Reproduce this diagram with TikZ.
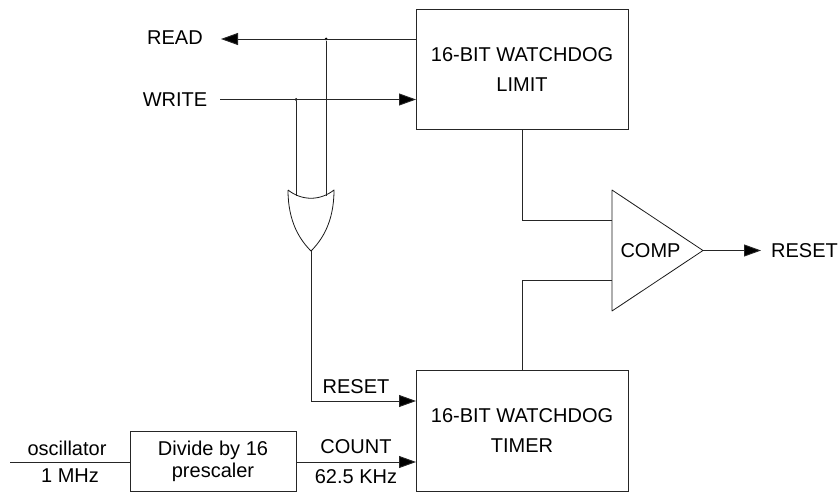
\documentclass[tikz,border=0pt]{standalone}
\usepackage{fontspec}
\setmainfont{Liberation Sans}
\usetikzlibrary{arrows.meta,calc}
\tikzset{
  x=1pt,y=-1pt,
  wire/.style={line width=0.9pt,draw=black!85},
  arr/.style={wire,-{Triangle[length=17pt,width=12pt,fill=black]}},
  blockbox/.style={draw=black!85,line width=0.9pt,align=center,inner sep=0pt},
  bigbox/.style={blockbox,minimum width=212pt,minimum height=120.5pt,font=\fontsize{20}{30}\selectfont},
  smallbox/.style={blockbox,minimum width=166pt,minimum height=60pt,font=\fontsize{20}{22}\selectfont},
  lab/.style={inner sep=0pt,anchor=base,font=\fontsize{20}{24}\selectfont},
  dotnode/.style={circle,fill=black,inner sep=0pt,minimum size=3pt},
  shapeline/.style={line width=0.8pt,draw=black!90,line join=round}
}
\begin{document}
\begin{tikzpicture}
\useasboundingbox (0,0) rectangle (840,492);
% blocks
\node[bigbox] (limit) at (522,69.5) {16-BIT WATCHDOG\\LIMIT};
\node[bigbox] (timer) at (522,431) {16-BIT WATCHDOG\\TIMER};
\node[smallbox] (pre) at (213,461) {Divide by 16\\prescaler};
% labels
\node[lab] (read) at (175,45) {READ};
\node[lab] (write) at (175,106.5) {WRITE};
\node[lab] (osc) at (67,455) {oscillator};
\node[lab] (mhz) at (70,482) {1 MHz};
\node[lab] (count) at (356,453) {COUNT};
\node[lab] (khz) at (356,483) {62.5 KHz};
\node[lab] (rst) at (356,393) {RESET};
\node[lab] (comp) at (650.5,257) {COMP};
\node[lab] (out) at (804.5,257) {RESET};
% comparator
\coordinate (ct) at (612,190);
\coordinate (cb) at (612,311);
\coordinate (cq) at (703,250.5);
\draw[shapeline] (ct) -- (cq) -- (cb) -- cycle;
% OR gate
\coordinate (ol) at (288,190);
\coordinate (or) at (334,190);
\coordinate (oq) at (311,251);
\coordinate (oa) at (296,196);
\coordinate (ob) at (326,196);
\draw[shapeline] (ol) .. controls (302,201) and (320,201) .. (or)
  .. controls (334,222) and (322,240) .. (oq)
  .. controls (300,240) and (288,222) .. (ol);
% junctions and pins
\coordinate (readpin) at (416,39);
\coordinate (writepin) at (416,99.5);
\coordinate (readend) at (221,39);
\coordinate (writestart) at (220,99.5);
\node[dotnode] (jr) at (326,39) {};
\node[dotnode] (jw) at (296,99.5) {};
\coordinate (rstpin) at (416,401);
\coordinate (cntpin) at (416,462);
\coordinate (oscstart) at (10,462);
\coordinate (cin1) at (612,220);
\coordinate (cin2) at (612,280.5);
\coordinate (outend) at (761,250.5);
% connectors
\draw[arr] (readpin) -- (readend);
\draw[arr] (writestart) -- (writepin);
\draw[wire] (jr) -- (ob);
\draw[wire] (jw) -- (oa);
\draw[arr] (oq) |- (rstpin);
\draw[wire] (oscstart) -- (oscstart -| pre.west);
\draw[arr] (cntpin -| pre.east) -- (cntpin);
\draw[wire] (limit.south) |- (cin1);
\draw[wire] (timer.north) |- (cin2);
\draw[arr] (cq) -- (outend);
\end{tikzpicture}
\end{document}
